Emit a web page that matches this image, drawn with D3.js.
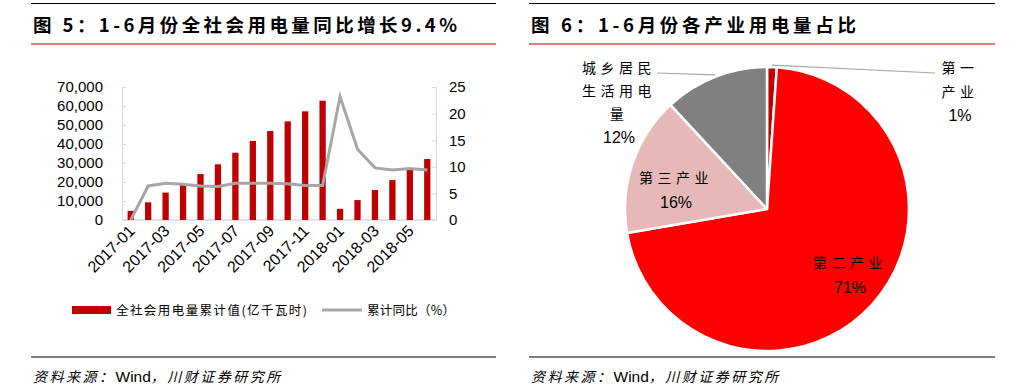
<!DOCTYPE html>
<html>
<head>
<meta charset="utf-8">
<script src="https://cdn.jsdelivr.net/npm/d3@7"></script>
<style>
  body { margin: 0; background: #fff; }
  svg { display: block; }
  text { font-family: "Liberation Sans", Arial, sans-serif; }
  .cjk { font-family: "Noto Sans CJK SC", "Noto Sans", sans-serif; }
</style>
</head>
<body>
<svg id="chart" width="1025" height="387"></svg>
<script>
// data
const months = ['2017-01','2017-02','2017-03','2017-04','2017-05','2017-06','2017-07','2017-08','2017-09',
  '2017-10','2017-11','2017-12','2018-01','2018-02','2018-03','2018-04','2018-05','2018-06'];
const cumPower = [4800, 9300, 14400, 19300, 24200, 29300, 35400, 41600, 46800,
  51900, 57200, 62800, 5900, 10500, 15800, 21000, 26800, 32100];
const cumYoY = [0, 6.4, 6.9, 6.7, 6.4, 6.3, 6.9, 6.9, 6.9, 6.8, 6.5, 6.5, 23.2, 13.3, 9.8, 9.4, 9.7, 9.4];
const leftTicks = [0, 10000, 20000, 30000, 40000, 50000, 60000, 70000];
const rightTicks = [0, 5, 10, 15, 20, 25];

const sectors = ['第一产业', '第二产业', '第三产业', '城乡居民生活用电量'];
const shares = [1.1, 71.2, 15.8, 11.9];
const shareLabels = ['1%', '71%', '16%', '12%'];

const svg = d3.select('#chart');
const red = '#c00000';

// panel frames: titles, rules, source
function panelFrame(x0, x1, title, titleLen) {
  svg.append('line').attr('x1', x0).attr('x2', x1).attr('y1', 3.5).attr('y2', 3.5)
    .attr('stroke', '#000').attr('stroke-width', 1.2);
  svg.append('text').attr('class', 'cjk').attr('x', x0 + 2).attr('y', 32)
    .attr('font-size', 18.5).attr('font-weight', 700)
    .attr('textLength', titleLen).attr('lengthAdjust', 'spacing')
    .text(title);
  svg.append('line').attr('x1', x0).attr('x2', x1).attr('y1', 44).attr('y2', 44)
    .attr('stroke', '#c00000').attr('stroke-width', 1.2);
  svg.append('line').attr('x1', x0).attr('x2', x1).attr('y1', 357).attr('y2', 357)
    .attr('stroke', '#000').attr('stroke-width', 1.2);
  const src = svg.append('text').attr('class', 'cjk').attr('x', x0 + 2).attr('y', 382)
    .attr('font-size', 14).attr('font-style', 'italic');
  src.append('tspan').attr('letter-spacing', 2.5).text('资料来源：');
  src.append('tspan').attr('font-family', '"Liberation Sans", Arial, sans-serif')
    .attr('font-style', 'normal').attr('font-size', 15.5).text('Wind');
  src.append('tspan').attr('letter-spacing', 2.5).text('，川财证券研究所');
}
panelFrame(31, 496, '图 5：1-6月份全社会用电量同比增长9.4%', 424);
panelFrame(529, 995, '图 6：1-6月份各产业用电量占比', 325);

// ---- left: bar + line ----
const plot = { left: 122, right: 436, top: 87, bottom: 220 };
const x = d3.scaleBand().domain(months).range([plot.left, plot.right]).paddingInner(0.64).paddingOuter(0.32);
const yL = d3.scaleLinear().domain([0, 70000]).range([plot.bottom, plot.top]);
const yR = d3.scaleLinear().domain([0, 25]).range([plot.bottom, plot.top]);
const axisColor = '#d9d9d9';

const gL = svg.append('g').attr('transform', `translate(${plot.left},0)`)
  .call(d3.axisRight(yL).tickValues(leftTicks).tickSize(4).tickFormat(''));
gL.selectAll('line, path').attr('stroke', axisColor);
svg.selectAll('.lt').data(leftTicks).enter().append('text')
  .attr('x', 103).attr('y', d => yL(d)).attr('dy', '0.36em')
  .attr('text-anchor', 'end').attr('font-size', 15).text(d3.format(','));

const gR = svg.append('g').attr('transform', `translate(${plot.right},0)`)
  .call(d3.axisLeft(yR).tickValues(rightTicks).tickSize(4).tickFormat(''));
gR.selectAll('line, path').attr('stroke', axisColor);
svg.selectAll('.rt').data(rightTicks).enter().append('text')
  .attr('x', 449).attr('y', d => yR(d)).attr('dy', '0.36em')
  .attr('font-size', 15).text(d => d);

svg.append('line').attr('x1', plot.left).attr('x2', plot.right)
  .attr('y1', plot.bottom).attr('y2', plot.bottom).attr('stroke', axisColor).attr('stroke-width', 1.5);

svg.selectAll('.bar').data(cumPower).enter().append('rect')
  .attr('x', (d, i) => x(months[i])).attr('width', x.bandwidth())
  .attr('y', d => yL(d)).attr('height', d => plot.bottom - yL(d))
  .attr('fill', red);

const line = d3.line().x((d, i) => x(months[i]) + x.bandwidth() / 2).y(d => yR(d));
svg.append('path').datum(cumYoY).attr('d', line)
  .attr('fill', 'none').attr('stroke', '#a6a6a6').attr('stroke-width', 3);

months.forEach((m, i) => {
  if (i % 2) return;
  const cx = x(m) + x.bandwidth() / 2 + 5;
  svg.append('text').attr('transform', `translate(${cx},232) rotate(-45)`)
    .attr('text-anchor', 'end').attr('font-size', 16).text(m);
});

// legend
svg.append('rect').attr('x', 72).attr('y', 306).attr('width', 39).attr('height', 8).attr('fill', red);
svg.append('text').attr('class', 'cjk').attr('x', 116).attr('y', 314.5).attr('font-size', 12.5)
  .attr('textLength', 191).attr('lengthAdjust', 'spacing').text('全社会用电量累计值(亿千瓦时)');
svg.append('line').attr('x1', 322).attr('x2', 362).attr('y1', 310).attr('y2', 310)
  .attr('stroke', '#a6a6a6').attr('stroke-width', 3);
svg.append('text').attr('class', 'cjk').attr('x', 367).attr('y', 314.5).attr('font-size', 12.5)
  .attr('textLength', 88).attr('lengthAdjust', 'spacing').text('累计同比（%）');

// ---- right: pie ----
const cx = 767, cy = 209, r = 142;
const pieColors = ['#c00000', '#ff0000', '#e6b9b8', '#808080'];
const arcs = d3.pie().sort(null).value(d => d)(shares);
const arc = d3.arc().innerRadius(0).outerRadius(r);
const gp = svg.append('g').attr('transform', `translate(${cx},${cy})`);
gp.selectAll('path').data(arcs).enter().append('path')
  .attr('d', arc).attr('fill', (d, i) => pieColors[i])
  .attr('stroke', '#fff').attr('stroke-width', 2.5).attr('stroke-linejoin', 'round');

function edgePoint(a) {
  const m = (a.startAngle + a.endAngle) / 2;
  return [cx + r * Math.sin(m), cy - r * Math.cos(m)];
}
// leader lines
const p0 = edgePoint(arcs[0]);
svg.append('line').attr('x1', p0[0]).attr('y1', p0[1] - 2).attr('x2', 935).attr('y2', 73)
  .attr('stroke', '#a6a6a6').attr('stroke-width', 1.2);
const p3 = edgePoint(arcs[3]);
svg.append('line').attr('x1', p3[0]).attr('y1', p3[1] - 2).attr('x2', 657).attr('y2', 73)
  .attr('stroke', '#a6a6a6').attr('stroke-width', 1.2);

function pieLabel(lines, px, py, step) {
  const t = svg.append('text').attr('text-anchor', 'middle').attr('font-size', 14);
  lines.forEach((s, i) => {
    const isPct = /%$/.test(s);
    t.append('tspan').attr('x', px).attr('y', py + i * step + (isPct ? 1 : 0))
      .attr('class', isPct ? null : 'cjk')
      .attr('letter-spacing', isPct ? 0 : 4.5)
      .attr('font-size', isPct ? 16 : 14)
      .text(s);
  });
}
pieLabel(['第一', '产业', shareLabels[0]], 960, 73, 23.5);
pieLabel(['城乡居民', '生活用电', '量', shareLabels[3]], 619, 73, 23);
pieLabel(['第三产业', shareLabels[2]], 676, 183, 24);
pieLabel(['第二产业', shareLabels[1]], 850, 268, 24);
</script>
</body>
</html>
